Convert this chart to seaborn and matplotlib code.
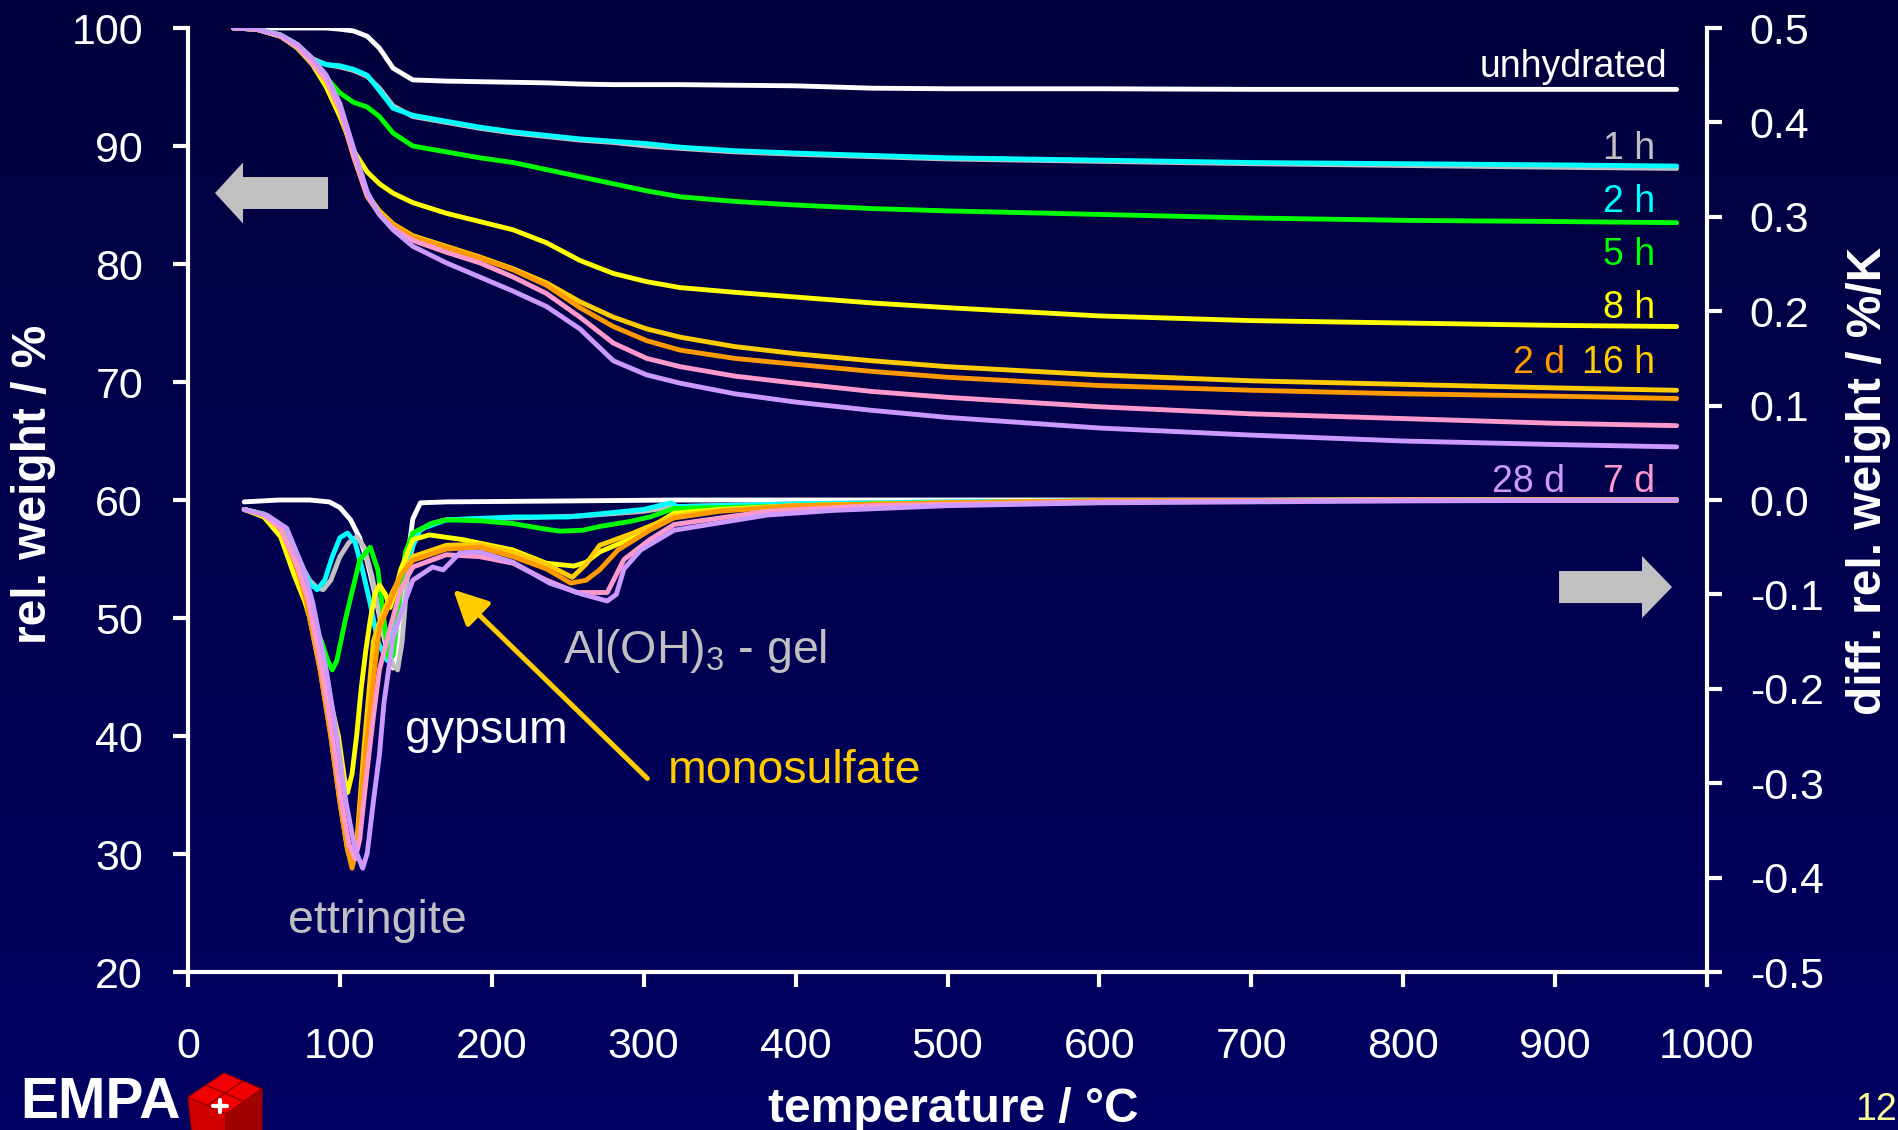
import numpy as np
import pandas as pd
import matplotlib
matplotlib.use("Agg")
import matplotlib.pyplot as plt
import matplotlib.patches as mpatches
from matplotlib.colors import LinearSegmentedColormap
from matplotlib.ticker import FuncFormatter
import seaborn as sns

# ---------------------------------------------------------------- samples
SAMPLES = ["unhydrated", "1 h", "2 h", "5 h", "8 h", "16 h", "2 d", "7 d", "28 d"]
COLORS = ["#FFFFFF", "#C0C0C0", "#00FFFF", "#00FF00", "#FFFF00",
          "#FFCC00", "#FF9900", "#FF99CC", "#CC99FF"]

# ------------------------------------------------ TG: relative weight / %
TG_TEMP = [30, 45, 61, 72, 82, 91, 100, 109, 118, 126, 135, 148, 170, 192, 214,
           236, 258, 280, 302, 324, 360, 400, 450, 500, 600, 700, 800, 900, 980]
TG_UNHYDRATED = [100, 100, 100, 100, 100, 100, 99.9, 99.75, 99.3, 98.3, 96.6, 95.6,
                 95.5, 95.45, 95.4, 95.35, 95.25, 95.2, 95.2, 95.2, 95.15, 95.1,
                 94.9, 94.85, 94.85, 94.8, 94.8, 94.8, 94.8]
TG_1H = [100, 99.9, 99.4, 98.6, 97.4, 96.9, 96.7, 96.4, 95.9, 94.9, 93.4, 92.5,
         92.0, 91.5, 91.1, 90.8, 90.5, 90.3, 90.0, 89.8, 89.5, 89.3, 89.1, 88.9,
         88.7, 88.5, 88.35, 88.2, 88.1]
TG_2H = [100, 99.9, 99.4, 98.6, 97.3, 96.9, 96.8, 96.5, 96.0, 94.7, 93.2, 92.6,
         92.1, 91.6, 91.2, 90.9, 90.6, 90.4, 90.2, 89.9, 89.6, 89.4, 89.2, 89.0,
         88.8, 88.6, 88.5, 88.4, 88.3]
TG_5H = [100, 99.9, 99.4, 98.5, 97.2, 95.8, 94.5, 93.7, 93.3, 92.5, 91.1, 90.0,
         89.5, 89.0, 88.6, 88.0, 87.4, 86.8, 86.2, 85.7, 85.3, 85.0, 84.7, 84.5,
         84.2, 83.9, 83.7, 83.6, 83.5]
TG_8H = [100, 99.9, 99.3, 98.3, 96.9, 95.0, 92.5, 89.6, 87.8, 86.8, 86.0, 85.2,
         84.3, 83.6, 82.9, 81.8, 80.3, 79.2, 78.5, 78.0, 77.6, 77.2, 76.7, 76.3,
         75.6, 75.2, 75.0, 74.8, 74.7]
TG_16H = [100, 99.9, 99.3, 98.4, 97.0, 95.5, 93.0, 89.2, 85.9, 84.5, 83.4, 82.4,
          81.5, 80.6, 79.6, 78.4, 76.8, 75.5, 74.5, 73.8, 73.0, 72.4, 71.8, 71.3,
          70.6, 70.1, 69.8, 69.5, 69.3]
TG_2D = [100, 99.9, 99.3, 98.4, 97.0, 95.6, 93.1, 89.1, 85.7, 84.3, 83.3, 82.3,
         81.4, 80.5, 79.5, 78.2, 76.3, 74.7, 73.5, 72.7, 72.0, 71.5, 70.9, 70.4,
         69.7, 69.3, 69.0, 68.8, 68.6]
TG_7D = [100, 99.9, 99.3, 98.4, 97.0, 95.6, 93.1, 89.2, 85.8, 84.2, 83.0, 82.0,
         81.0, 80.1, 78.9, 77.5, 75.5, 73.3, 72.0, 71.3, 70.5, 69.9, 69.2, 68.7,
         67.9, 67.3, 66.9, 66.5, 66.3]
TG_28D = [100, 99.9, 99.4, 98.6, 97.4, 96.0, 93.6, 89.8, 86.1, 84.2, 82.9, 81.5,
          80.1, 78.9, 77.7, 76.4, 74.5, 71.8, 70.6, 69.9, 69.0, 68.3, 67.6, 67.0,
          66.1, 65.5, 65.0, 64.7, 64.5]

# ------------------------------------- DTG: diff. relative weight / %/K
DTG_T_UNHYDRATED = [37, 60, 80, 93, 100, 107, 113, 118, 122, 127, 131, 135, 139,
                    143, 148, 153, 170, 250, 320, 400, 600, 800, 980]
DTG_UNHYDRATED = [-0.002, 0.0, 0.0, -0.002, -0.008, -0.021, -0.040, -0.065, -0.092,
                  -0.130, -0.160, -0.178, -0.150, -0.080, -0.020, -0.003, -0.002,
                  -0.001, 0.0, 0.0, 0.0, 0.0, 0.0]
DTG_T_1H = [37, 50, 61, 68, 74, 80, 85, 89, 94, 100, 106, 111, 116, 121, 126, 131,
            135, 138, 141, 145, 150, 160, 170, 214, 258, 300, 320, 400, 500, 600,
            800, 980]
DTG_1H = [-0.010, -0.015, -0.029, -0.045, -0.067, -0.085, -0.093, -0.095, -0.085,
          -0.060, -0.045, -0.039, -0.050, -0.080, -0.120, -0.155, -0.175, -0.180,
          -0.150, -0.070, -0.035, -0.025, -0.021, -0.019, -0.017, -0.012, -0.007,
          -0.004, -0.002, -0.001, 0.0, 0.0]
DTG_T_2H = [37, 50, 61, 68, 74, 80, 85, 90, 95, 100, 105, 110, 115, 120, 125, 131,
            135, 140, 146, 153, 170, 214, 250, 300, 318, 322, 400, 500, 600, 800, 980]
DTG_2H = [-0.010, -0.015, -0.029, -0.045, -0.067, -0.088, -0.095, -0.085, -0.060,
          -0.040, -0.035, -0.045, -0.075, -0.110, -0.150, -0.170, -0.140, -0.090,
          -0.056, -0.031, -0.021, -0.018, -0.018, -0.010, -0.003, -0.007, -0.004,
          -0.002, -0.001, 0.0, 0.0]
DTG_T_5H = [37, 50, 61, 72, 78, 84, 88, 92, 95, 98, 104, 113, 120, 125, 129, 132,
            135, 139, 143, 148, 160, 170, 192, 214, 236, 245, 260, 271, 290, 304,
            320, 350, 381, 450, 600, 800, 980]
DTG_5H = [-0.010, -0.015, -0.030, -0.070, -0.100, -0.135, -0.150, -0.170, -0.180,
          -0.170, -0.124, -0.064, -0.050, -0.074, -0.127, -0.167, -0.165, -0.110,
          -0.056, -0.035, -0.025, -0.021, -0.022, -0.025, -0.031, -0.033, -0.032,
          -0.028, -0.023, -0.018, -0.009, -0.008, -0.007, -0.004, -0.001, 0.0, 0.0]
DTG_T_8H = [37, 50, 61, 70, 77, 83, 88, 94, 99, 103, 105, 108, 111, 114, 117, 120,
            123, 126, 130, 133, 136, 140, 148, 159, 181, 214, 236, 254, 262, 271,
            293, 320, 350, 400, 500, 600, 800, 980]
DTG_8H = [-0.010, -0.018, -0.039, -0.080, -0.108, -0.140, -0.180, -0.215, -0.250,
          -0.295, -0.310, -0.290, -0.250, -0.200, -0.160, -0.127, -0.100, -0.090,
          -0.100, -0.114, -0.100, -0.074, -0.042, -0.037, -0.042, -0.053, -0.067,
          -0.070, -0.066, -0.055, -0.040, -0.014, -0.010, -0.006, -0.003, -0.001,
          0.0, 0.0]
DTG_T_16H = [37, 50, 61, 72, 78, 87, 94, 100, 105, 108, 111, 116, 122, 127, 131,
             140, 148, 170, 192, 214, 236, 253, 262, 271, 293, 320, 350, 400, 500,
             600, 800, 980]
DTG_16H = [-0.010, -0.016, -0.030, -0.073, -0.108, -0.180, -0.250, -0.320, -0.370,
           -0.385, -0.365, -0.260, -0.150, -0.125, -0.110, -0.080, -0.060, -0.048,
           -0.047, -0.055, -0.068, -0.082, -0.068, -0.048, -0.035, -0.017, -0.011,
           -0.006, -0.003, -0.001, 0.0, 0.0]
DTG_T_2D = [37, 50, 61, 72, 78, 87, 94, 100, 105, 108, 111, 116, 122, 126, 131, 140,
            148, 170, 192, 214, 236, 252, 262, 271, 283, 304, 320, 350, 400, 500,
            600, 800, 980]
DTG_2D = [-0.010, -0.016, -0.030, -0.073, -0.108, -0.180, -0.250, -0.320, -0.370,
          -0.390, -0.370, -0.280, -0.190, -0.136, -0.116, -0.080, -0.064, -0.052,
          -0.050, -0.060, -0.073, -0.088, -0.085, -0.074, -0.053, -0.032, -0.019,
          -0.012, -0.006, -0.003, -0.001, 0.0, 0.0]
DTG_T_7D = [37, 50, 61, 72, 79, 88, 95, 101, 106, 110, 113, 118, 122, 126, 133, 140,
            148, 170, 192, 214, 236, 256, 276, 287, 304, 320, 381, 450, 600, 800, 980]
DTG_7D = [-0.010, -0.016, -0.030, -0.070, -0.105, -0.180, -0.250, -0.320, -0.365,
          -0.380, -0.360, -0.285, -0.230, -0.180, -0.136, -0.095, -0.071, -0.058,
          -0.060, -0.067, -0.085, -0.098, -0.098, -0.063, -0.042, -0.026, -0.012,
          -0.006, -0.002, 0.0, 0.0]
DTG_T_28D = [37, 52, 65, 76, 82, 91, 98, 104, 110, 115, 118, 122, 126, 129, 135, 140,
             148, 161, 168, 179, 192, 214, 238, 260, 276, 282, 287, 298, 320, 381,
             425, 500, 600, 800, 980]
DTG_28D = [-0.010, -0.016, -0.030, -0.073, -0.108, -0.180, -0.250, -0.320, -0.370,
           -0.390, -0.374, -0.320, -0.270, -0.215, -0.146, -0.120, -0.085, -0.071,
           -0.074, -0.056, -0.055, -0.066, -0.088, -0.100, -0.107, -0.100, -0.073,
           -0.053, -0.032, -0.016, -0.011, -0.006, -0.003, -0.001, 0.0]

# ----------------------------------------------------------- axis ticks
X_TICKS = [0, 100, 200, 300, 400, 500, 600, 700, 800, 900, 1000]
Y_TICKS = [20, 30, 40, 50, 60, 70, 80, 90, 100]
Y2_TICKS = [-0.5, -0.4, -0.3, -0.2, -0.1, 0.0, 0.1, 0.2, 0.3, 0.4, 0.5]

# ------------------------------------------------------------ long tables
tg_values = [TG_UNHYDRATED, TG_1H, TG_2H, TG_5H, TG_8H, TG_16H, TG_2D, TG_7D, TG_28D]
dtg_temps = [DTG_T_UNHYDRATED, DTG_T_1H, DTG_T_2H, DTG_T_5H, DTG_T_8H, DTG_T_16H,
             DTG_T_2D, DTG_T_7D, DTG_T_28D]
dtg_values = [DTG_UNHYDRATED, DTG_1H, DTG_2H, DTG_5H, DTG_8H, DTG_16H, DTG_2D,
              DTG_7D, DTG_28D]

tg = pd.concat([pd.DataFrame({"temperature": TG_TEMP, "weight": w, "sample": s})
                for s, w in zip(SAMPLES, tg_values)], ignore_index=True)
dtg = pd.concat([pd.DataFrame({"temperature": t, "dweight": d, "sample": s})
                 for s, t, d in zip(SAMPLES, dtg_temps, dtg_values)], ignore_index=True)
palette = dict(zip(SAMPLES, COLORS))

# ---------------------------------------------------------------- style
sns.set_style("ticks")
plt.rcParams["font.family"] = ["Liberation Sans", "DejaVu Sans"]
plt.rcParams["axes.unicode_minus"] = False
plt.rcParams["mathtext.fontset"] = "custom"
plt.rcParams["mathtext.rm"] = "Liberation Sans"
plt.rcParams["mathtext.default"] = "rm"

W, H = 1899, 1130
fig = plt.figure(figsize=(W / 100, H / 100), dpi=100)

# slide background: vertical navy gradient
bg = fig.add_axes([0, 0, 1, 1], zorder=-10)
bg.imshow(np.linspace(0, 1, 256).reshape(-1, 1), aspect="auto", origin="upper",
          extent=[0, 1, 0, 1],
          cmap=LinearSegmentedColormap.from_list("navy", ["#00003C", "#000063"]))
bg.axis("off")

L, R, T, B = 188, 1707, 28, 972
ax = fig.add_axes([L / W, 1 - B / H, (R - L) / W, (B - T) / H])
ax.patch.set_visible(False)
ax2 = ax.twinx()
ax2.patch.set_visible(False)

LW = 3.5
sns.lineplot(data=tg, x="temperature", y="weight", hue="sample", hue_order=SAMPLES,
             palette=palette, estimator=None, sort=False, linewidth=LW,
             legend=False, ax=ax)
sns.lineplot(data=dtg, x="temperature", y="dweight", hue="sample", hue_order=SAMPLES,
             palette=palette, estimator=None, sort=False, linewidth=LW,
             legend=False, ax=ax2)

ax.set_xlim(0, 1000)
ax.set_ylim(20, 100)
ax2.set_ylim(-0.5, 0.5)
ax.set_xticks(X_TICKS)
ax.set_yticks(Y_TICKS)
ax2.set_yticks(Y2_TICKS)
ax2.yaxis.set_major_formatter(FuncFormatter(lambda v, p: f"{round(v, 1) + 0.0:.1f}"))

for a in (ax, ax2):
    for side in ("top", "left", "right", "bottom"):
        a.spines[side].set_visible(False)
ax.spines["left"].set_visible(True)
ax.spines["bottom"].set_visible(True)
ax2.spines["right"].set_visible(True)
for sp in (ax.spines["left"], ax.spines["bottom"], ax2.spines["right"]):
    sp.set_color("white")
    sp.set_linewidth(3)

tick_kw = dict(direction="out", length=10.8, width=3, colors="white", labelsize=31)
ax.tick_params(axis="y", pad=21.6, **tick_kw)
ax.tick_params(axis="x", pad=29, **tick_kw)
ax2.tick_params(axis="y", pad=20, **tick_kw)

lab_kw = dict(fontsize=34.5, fontweight="bold", color="white")
ax.set_xlabel("temperature / °C", **lab_kw)
ax.xaxis.set_label_coords(0.504, -0.159)
ax.xaxis.label.set_va("baseline")
ax.set_ylabel("rel. weight / %", **lab_kw)
ax.yaxis.set_label_coords(-0.102, 0.517)
ax.yaxis.label.set_va("center")
ax2.set_ylabel("diff. rel. weight / %/K", rotation=90, **lab_kw)
ax2.yaxis.set_label_coords(1.106, 0.52)
ax2.yaxis.label.set_va("center")

# ---------------------------------------------------------- annotations
ser_kw = dict(fontsize=27, ha="right", va="baseline")
ax.text(973.7, 95.85, "unhydrated", color="#FFFFFF", **ser_kw)
ax.text(966, 88.9, "1 h", color="#C0C0C0", **ser_kw)
ax.text(966, 84.4, "2 h", color="#00FFFF", **ser_kw)
ax.text(966, 79.9, "5 h", color="#00FF00", **ser_kw)
ax.text(966, 75.4, "8 h", color="#FFFF00", **ser_kw)
ax.text(966, 70.8, "16 h", color="#FFCC00", **ser_kw)
ax.text(906.5, 70.8, "2 d", color="#FF9900", **ser_kw)
ax.text(966, 60.7, "7 d", color="#FF99CC", **ser_kw)
ax.text(906.5, 60.7, "28 d", color="#CC99FF", **ser_kw)

phase_kw = dict(fontsize=33.5, va="baseline")
ax.text(125, 23.3, "ettringite", color="#C0C0C0", ha="center", **phase_kw)
ax.text(143, 39.4, "gypsum", color="#FFFFFF", ha="left", **phase_kw)
ax.text(247, 46.2, r"Al(OH)$_3$ - gel", color="#C0C0C0", ha="left", **phase_kw)
ax.text(316, 36.0, "monosulfate", color="#FFCC00", ha="left", **phase_kw)
ax.annotate("", xy=(174.6, 52.4), xytext=(302.4, 36.4),
            arrowprops=dict(arrowstyle="-|>,head_length=0.7,head_width=0.35",
                            color="#FFCC00", lw=3.6, mutation_scale=30,
                            shrinkA=0, shrinkB=0))

# block arrows pointing to the axis each curve family belongs to
ax.add_patch(mpatches.FancyArrow(0.0922, 0.8252, -0.0744, 0, width=0.0339,
                                 head_width=0.0646, head_length=0.0184,
                                 length_includes_head=True, color="#C0C0C0",
                                 lw=0, transform=ax.transAxes))
ax.add_patch(mpatches.FancyArrow(0.9026, 0.4078, 0.0744, 0, width=0.0339,
                                 head_width=0.0657, head_length=0.0198,
                                 length_includes_head=True, color="#C0C0C0",
                                 lw=0, transform=ax.transAxes))

# ----------------------------------------------------- slide decorations
def px(x, y):
    return (x / W, 1 - y / H)

fig.text(*px(20, 1118), "EMPA", fontsize=41, fontweight="bold", color="white",
         ha="left", va="baseline")
fig.text(*px(1855, 1120), "12", fontsize=27, color="#FFFF99", ha="left",
         va="baseline")

cube_faces = [
    ([(188, 1097), (224, 1073), (262, 1089), (226, 1114)], "#F00000"),
    ([(188, 1097), (226, 1114), (226, 1135), (192, 1135)], "#D00000"),
    ([(226, 1114), (262, 1089), (262, 1135), (226, 1135)], "#A00000"),
]
for pts, col in cube_faces:
    fig.patches.append(mpatches.Polygon([px(*p) for p in pts], closed=True,
                                        facecolor=col, edgecolor="#900000",
                                        lw=0.8, transform=fig.transFigure))
for (x0, y0), (x1, y1) in [((206, 1085), (244, 1101.5)), ((207, 1105.5), (243, 1081))]:
    fig.lines.append(plt.Line2D([x0 / W, x1 / W], [1 - y0 / H, 1 - y1 / H],
                                color="#900000", lw=1.0, transform=fig.transFigure))
for (x0, y0), (x1, y1) in [((213, 1106), (227, 1106)), ((220, 1100), (220, 1112))]:
    fig.lines.append(plt.Line2D([x0 / W, x1 / W], [1 - y0 / H, 1 - y1 / H],
                                color="white", lw=3.0, transform=fig.transFigure))

fig.savefig("out.png", dpi=100)
